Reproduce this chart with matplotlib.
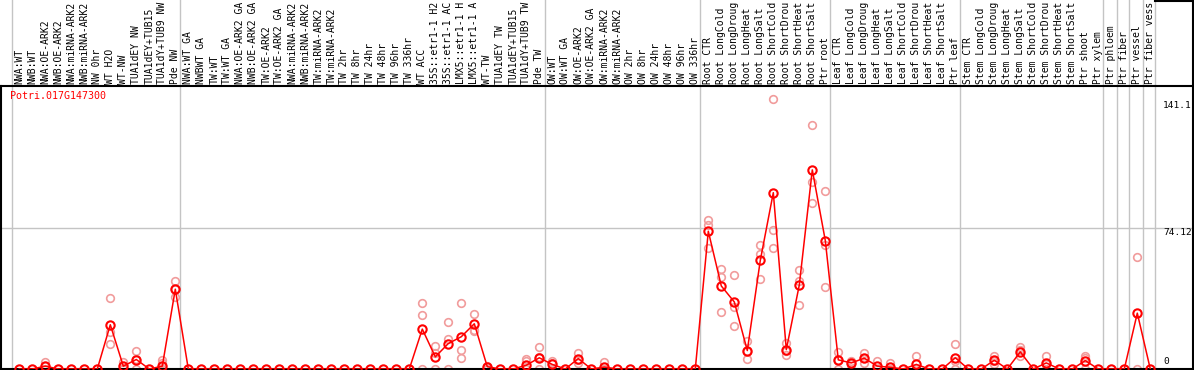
import matplotlib
matplotlib.use('Agg')
import matplotlib.pyplot as plt
from matplotlib.lines import Line2D
import numpy as np

# 샘플 이름 (위쪽 라벨, 그림에 보이는 만큼만)
categories = [
    'NWA:WT', 'NWB:WT', 'NWA:OE-ARK2', 'NWB:OE-ARK2', 'NWA:miRNA-ARK2', 'NWB:miRNA-ARK2',
    'NW 0hr', 'WT H2O', 'WT-NW', 'TUA1dEY NW', 'TUA1dEY+TUB15', 'TUA1dY+TUB9 NW', 'Pde NW',
    'NWA:WT GA', 'NWBWT GA', 'TW:WT', 'TW:WT GA', 'NWA:OE-ARK2 GA', 'NWB:OE-ARK2 GA',
    'TW:OE-ARK2', 'TW:OE-ARK2 GA', 'NWA:miRNA-ARK2', 'NWB:miRNA-ARK2', 'TW:miRNA-ARK2',
    'TW:miRNA-ARK2', 'TW 2hr', 'TW 8hr', 'TW 24hr', 'TW 48hr', 'TW 96hr', 'TW 336hr',
    'WT ACC', '35S::etr1-1 H2', '35S::etr1-1 AC', 'LMX5::etr1-1 H', 'LMX5::etr1-1 A',
    'WT-TW', 'TUA1dEY TW', 'TUA1dEY+TUB15', 'TUA1dY+TUB9 TW', 'Pde TW',
    'OW:WT', 'OW:WT GA', 'OW:OE-ARK2', 'OW:OE-ARK2 GA', 'OW:miRNA-ARK2', 'OW:miRNA-ARK2',
    'OW 2hr', 'OW 8hr', 'OW 24hr', 'OW 48hr', 'OW 96hr', 'OW 336hr',
    'Root CTR', 'Root LongCold', 'Root LongDroug', 'Root LongHeat', 'Root LongSalt',
    'Root ShortCold', 'Root ShortDrou', 'Root ShortHeat', 'Root ShortSalt', 'Ptr root',
    'Leaf CTR', 'Leaf LongCold', 'Leaf LongDroug', 'Leaf LongHeat', 'Leaf LongSalt',
    'Leaf ShortCold', 'Leaf ShortDrou', 'Leaf ShortHeat', 'Leaf ShortSalt', 'Ptr leaf',
    'Stem CTR', 'Stem LongCold', 'Stem LongDroug', 'Stem LongHeat', 'Stem LongSalt',
    'Stem ShortCold', 'Stem ShortDrou', 'Stem ShortHeat', 'Stem ShortSalt', 'Ptr shoot',
    'Ptr xylem', 'Ptr phloem', 'Ptr fiber', 'Ptr vessel', 'Ptr fiber vess',
]

# 평균값 (빨간 선)
means = (
    [0, 0, 1.5, 0, 0, 0, 0, 23.3, 1.5, 5.0, 0, 1.5, 42.0]
    + [0] * 18 + [21.0, 6.4, 13.4, 17.0, 23.8, 1.2, 0, 0, 2.0, 5.9]
    + [2.4, 0, 5.5, 0, 1.0, 0, 0, 0, 0, 0, 0, 0]
    + [72.5, 43.7, 35.3, 9.7, 57.2, 92.8, 10.2, 44.2, 104.8, 67.6]
    + [4.8, 3.2, 5.7, 1.5, 0.9, 0, 2.4, 0, 0, 5.9]
    + [0, 0, 4.6, 0, 9.0, 0, 3.2, 0, 0, 4.4]
    + [0, 0, 0, 29.4, 0]
)

# 반복 측정값 (연한 원)
replicates = {
    2: [3.9, 1.5, 0], 7: [37.3, 19.5, 13.4], 8: [3.6, 0.5, 0], 9: [9.7, 5.3, 0],
    11: [5.0, 3.0, 0], 12: [46.3, 41.9, 37.8],
    31: [34.7, 28.5, 0], 32: [12.3, 8.5, 0], 33: [25.0, 16.0, 0], 34: [34.7, 10.2, 5.9],
    35: [28.9, 20.7, 19.8], 36: [1.5, 0, 0], 39: [5.3, 4.1, 0], 40: [11.6, 6.1, 0],
    41: [4.1, 3.2, 0], 43: [8.5, 4.8, 3.2], 45: [3.5, 0, 0],
    53: [78.6, 75.7, 63.5], 54: [52.5, 48.6, 29.9], 55: [49.5, 32.4, 22.4],
    56: [14.6, 9.3, 5.2], 57: [65.2, 60.5, 47.5], 58: [142.0, 73.0, 63.5],
    59: [13.7, 9.3, 7.6], 60: [52.1, 46.3, 33.8], 61: [128.4, 98.3, 87.5],
    62: [93.5, 65.5, 43.0],
    63: [9.0, 4.8, 0], 64: [4.1, 2.4, 0], 65: [8.5, 5.6, 3.2], 66: [4.1, 0, 0],
    67: [2.9, 0, 0], 69: [6.7, 0.5, 0], 72: [13.4, 4.4, 0],
    75: [7.1, 4.0, 2.6], 77: [11.6, 10.2, 6.7], 79: [7.1, 2.4, 0], 82: [7.1, 5.9, 0],
    86: [59.1, 0],
}

# 그룹 구분선 (카테고리 뒤)
separators = [-0.56, 12.36, 40.44, 52.36, 62.36, 72.36, 83.36, 84.44, 85.36, 86.44, 87.36]
y_ticks = [0, 74.12, 141.1]
y_labels = ['0', '74.12', '141.1']
gene = 'Potri.017G147300'

W, H = 1194, 370
fig = plt.figure(figsize=(W / 100, H / 100), dpi=100)
ax = fig.add_axes([1 / W, 1 / H, 1192 / W, 283 / H])

x = np.arange(len(categories))
ax.set_xlim((1 - 19.3) / 13, (1193 - 19.3) / 13)
ax.set_ylim(0, 283 / 1.9)

mono = 'DejaVu Sans Mono'

# 그리드
for s in separators:
    ax.axvline(s, ymin=0, ymax=369 / 283, color='#c4c4c4', lw=1, clip_on=False, zorder=0)
ax.axhline(y_ticks[1], color='#c4c4c4', lw=1, zorder=0)

# 반복값
for i, vals in replicates.items():
    ax.plot([i] * len(vals), vals, 'o', mfc='none', mec='#f19c9c', ms=5.5, mew=1.2, zorder=2)

# 평균선
ax.plot(x, means, '-', color='red', lw=1.1, marker='o', mfc='none', mec='red',
        ms=6, mew=1.5, zorder=3)

# 위쪽 라벨
ax.set_xticks(x)
ax.set_xticklabels(categories, rotation=90, fontfamily=mono, fontsize=7)
ax.xaxis.tick_top()
ax.tick_params(axis='x', length=0, pad=1.5)
ax.set_yticks([])

# 오른쪽 y 라벨
tr = ax.get_yaxis_transform()
xl = (1163 - 1) / 1192
ax.text(xl, y_ticks[2], y_labels[2], transform=tr, va='top', ha='left', fontfamily=mono, fontsize=6.8)
ax.text(xl, y_ticks[1], y_labels[1], transform=tr, va='top', ha='left', fontfamily=mono, fontsize=6.8)
ax.text(xl, y_ticks[0] + 1.5, y_labels[0], transform=tr, va='bottom', ha='left', fontfamily=mono, fontsize=6.8)

ax.text(9 / 1192, 1 - 10 / 283, gene, transform=ax.transAxes, color='red', va='center',
        ha='left', fontfamily=mono, fontsize=7.2)

for sp in ax.spines.values():
    sp.set_color('black')
    sp.set_linewidth(1.5)

# 오른쪽 위 박스
fig.add_artist(Line2D([1155 / W, 1], [1 - 0.7 / H] * 2, color='black', lw=1.5))
fig.add_artist(Line2D([1192.5 / W] * 2, [284 / H, 1], color='black', lw=1.5))

fig.savefig('out.png', dpi=100)
